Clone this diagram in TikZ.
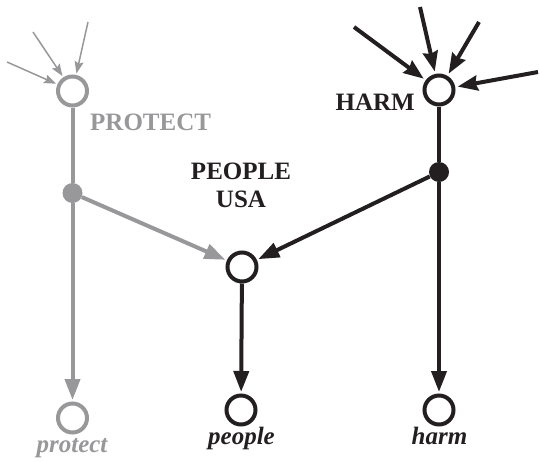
\documentclass[tikz,border=0pt]{standalone}
\usepackage{fontspec}
\setmainfont{Liberation Serif}
\usetikzlibrary{arrows.meta}
\definecolor{ink}{RGB}{35,31,32}
\definecolor{fade}{RGB}{152,152,154}
\begin{document}
\begin{tikzpicture}[x=1pt,y=-1pt,
  state/.style={circle, draw, line width=4pt, minimum size=29pt, inner sep=0pt, fill=white},
  junction/.style={circle, fill, minimum size=20pt, inner sep=0pt},
  lbl/.style={inner sep=0pt, font=\fontsize{25}{28}\selectfont\bfseries},
  ilbl/.style={inner sep=0pt, font=\fontsize{25}{28}\selectfont\bfseries\itshape},
  trunk/.style={line width=4pt},
  flow/.style={line width=4pt, -{Triangle[length=21pt,width=15pt]}, shorten >=1.5pt},
  feed/.style={line width=1.5pt, -{Stealth[length=12pt,width=9pt,inset=2pt]}, shorten >=1.5pt},
  push/.style={line width=4pt, -{Stealth[length=20pt,width=15pt,inset=2pt]}, shorten >=2.5pt}]
\useasboundingbox (0,0) rectangle (540,461);

% faded PROTECT column
\begin{scope}[fade, draw=fade, fill=fade]
  \node[state, draw=fade] (P) at (72.5,91) {};
  \node[junction, fill=fade] (Pj) at (72.5,193) {};
  \node[state, draw=fade] (p) at (72.5,418) {};
  \node[lbl, text=fade, anchor=base west] (Plbl) at (90,130) {PROTECT};
  \node[ilbl, text=fade, anchor=base] (plbl) at (72,452) {protect};
  \coordinate (pin1) at (7,62);
  \coordinate (pin2) at (33,32);
  \coordinate (pin3) at (88,22);
  \draw[feed, fade] (pin1) -- (P);
  \draw[feed, fade] (pin2) -- (P);
  \draw[feed, fade] (pin3) -- (P);
  \draw[trunk, fade] (P) -- (Pj);
  \draw[flow, fade] (Pj) -- (p);
\end{scope}

% PEOPLE / USA column
\node[state, draw=ink] (U) at (242,267) {};
\node[state, draw=ink] (u) at (241,410) {};
\node[lbl, text=ink, align=center, anchor=base] (Ulbl) at (241,207) {PEOPLE\\USA};
\node[ilbl, text=ink, anchor=base] (ulbl) at (241.5,444) {people};
\draw[flow, ink] (U) -- (u);

% HARM column
\node[state, draw=ink] (H) at (439,90) {};
\node[junction, fill=ink] (Hj) at (439,172) {};
\node[state, draw=ink] (h) at (439,410) {};
\node[lbl, text=ink, anchor=base east] (Hlbl) at (415,110) {HARM};
\node[ilbl, text=ink, anchor=base] (hlbl) at (439.5,444) {harm};
\coordinate (hin1) at (354,27);
\coordinate (hin2) at (420,7);
\coordinate (hin3) at (479,22);
\coordinate (hin4) at (538,72);
\draw[push, ink] (hin1) -- (H);
\draw[push, ink] (hin2) -- (H);
\draw[push, ink] (hin3) -- (H);
\draw[push, ink] (hin4) -- (H);
\draw[trunk, ink] (H) -- (Hj);
\draw[flow, ink] (Hj) -- (h);

% cross links into PEOPLE / USA
\draw[flow, fade] (Pj) -- (U);
\draw[flow, ink] (Hj) -- (U);
\end{tikzpicture}
\end{document}
